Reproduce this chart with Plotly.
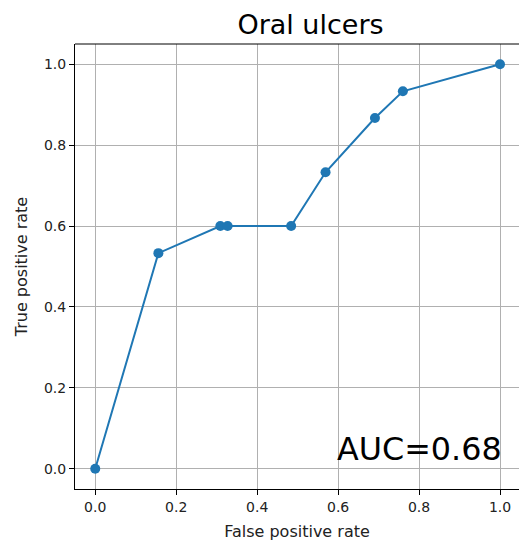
import plotly.graph_objects as go

fpr = [0.0, 0.156, 0.309, 0.327, 0.484, 0.569, 0.691, 0.760, 1.0]
tpr = [0.0, 0.533, 0.600, 0.600, 0.600, 0.733, 0.867, 0.933, 1.0]
title_text = "Oral ulcers"
auc_text = "AUC=0.68"
tick_vals = [0.0, 0.2, 0.4, 0.6, 0.8, 1.0]
tick_text = ["0.0", "0.2", "0.4", "0.6", "0.8", "1.0"]

fig = go.Figure()
fig.add_trace(go.Scatter(
    x=fpr, y=tpr, mode="lines+markers",
    line=dict(color="#1f77b4", width=2),
    marker=dict(color="#1f77b4", size=10),
    showlegend=False,
))

font = "DejaVu Sans"
fig.add_annotation(
    x=0.6, y=0.0, xref="x", yref="y", text=auc_text, showarrow=False,
    xanchor="left", yanchor="bottom", xshift=-3,
    font=dict(family=font, size=31.8, color="black"),
)

axis_common = dict(
    showgrid=True, gridcolor="#b0b0b0", gridwidth=1,
    zeroline=False, showline=True, linecolor="black", linewidth=1,
    ticks="outside", ticklen=5, tickcolor="black", tickwidth=1,
    tickfont=dict(family=font, size=14, color="#222222"),
    tickvals=tick_vals, ticktext=tick_text, automargin=False,
)

fig.update_layout(
    width=519, height=545,
    margin=dict(l=75, r=0, t=44, b=56),
    paper_bgcolor="white", plot_bgcolor="white",
    title=dict(text=title_text, x=310.5 / 519, xanchor="center", xref="container",
               y=1 - 25 / 545, yanchor="middle", yref="container",
               font=dict(family=font, size=27, color="black")),
    xaxis=dict(axis_common, range=[-0.05, (519 - 95) / 405],
               mirror=False,
               title=dict(text="False positive rate", font=dict(family=font, size=16, color="#222222"), standoff=12)),
    yaxis=dict(axis_common, range=[-0.05, 1.05],
               title=dict(text="True positive rate", font=dict(family=font, size=16, color="#222222"), standoff=12)),
)
fig.add_shape(type="line", xref="paper", yref="paper", x0=0, x1=1.01, y0=1, y1=1,
              line=dict(color="black", width=1))

fig.write_html("out.html", config={"displayModeBar": False},
               post_script="document.body.style.margin='0';document.body.style.overflow='hidden';")
